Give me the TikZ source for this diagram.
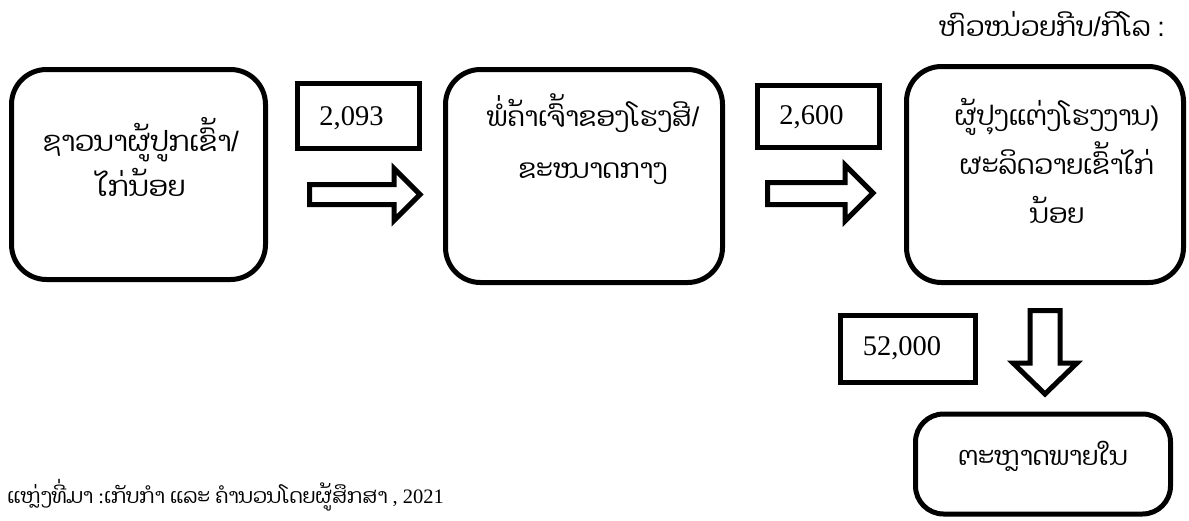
\documentclass[tikz,border=0pt]{standalone}
\usepackage{fontspec}
\setmainfont{Liberation Serif}
\newfontfamily\lao[Script=Lao]{Dhyana}
\newfontfamily\lsans{Liberation Sans}
\begin{document}
\begin{tikzpicture}[x=1pt,y=-1pt,
  bigbox/.style={draw, line width=5pt, rounded corners=35pt, inner sep=0pt},
  numbox/.style={draw, line width=5pt, inner sep=0pt},
  blockarrow/.style={draw, line width=5pt, miter limit=10},
  laotext/.style={font=\lao\fontsize{27}{49}\selectfont, align=center, inner sep=0pt},
  numtext/.style={font=\fontsize{28.5}{30}\selectfont, inner sep=0pt}
]
\useasboundingbox (0,0) rectangle (1189,520);
\fill[white] (0,0) rectangle (1189,520);

% main boxes
\node[bigbox, minimum width=254pt, minimum height=210pt] (farmer) at (138.5,174.5) {};
\node[bigbox, minimum width=277pt, minimum height=213pt] (mill) at (584,176) {};
\node[bigbox, minimum width=277pt, minimum height=216pt] (proc) at (1045,174.5) {};
\node[bigbox, rounded corners=28pt, minimum width=255pt, minimum height=100pt] (market) at (1043,464) {};

% price boxes
\node[numbox, minimum width=122pt, minimum height=65pt] (p1) at (358.5,116) {};
\node[numbox, minimum width=122pt, minimum height=62pt] (p2) at (818.5,116.5) {};
\node[numbox, minimum width=135pt, minimum height=67pt] (p3) at (908,349) {};

\node[numtext] (p1t) at (351.5,118) {2,093};
\node[numtext] (p2t) at (811.5,117) {2,600};
\node[numtext] (p3t) at (902,348) {52,000};

% texts in boxes
\node[laotext, font=\lao\fontsize{28}{45}\selectfont] (farmert) at (141,157) {ຊາວນາຜູ້ປູກເຂົ້າ{\lsans/}\\ໄກ່ນ້ອຍ};
\node[laotext, font=\lao\fontsize{27}{52}\selectfont] (millt) at (593,139) {ພໍ່ຄ້າເຈົ້າຂອງໂຮງສີ{\lsans/}\\ຂະໜາດກາງ};
\node[laotext] (proct) at (1057,161) {ຜູ້ປຸງແຕ່ງໂຮງງານ{\lsans)}\\ຜະລິດວາຍເຂົ້າໄກ່\\ນ້ອຍ};
\node[laotext, font=\lao\fontsize{26}{30}\selectfont] (markett) at (1043,456) {ຕະຫຼາດພາຍໃນ};

% unit label and source
\node[font=\lao\fontsize{27}{30}\selectfont, anchor=east, inner sep=0pt] (unit) at (1165,24) {ຫົວໜ່ວຍກີບ{\lsans/}ກິໂລ {\lsans:}};
\node[font=\lao\fontsize{20.5}{26}\selectfont, anchor=west, inner sep=0pt] (src) at (7,495) {ແຫຼ່ງທີ່ມາ {\rmfamily:}ເກັບກຳ ແລະ ຄຳນວນໂດຍຜູ້ສຶກສາ {\rmfamily, 2021}};

% block arrows
\draw[blockarrow] (309.5,184.5) -- (394,184.5) -- (394,168.5) -- (420,194.5) -- (394,220.5) -- (394,204.5) -- (309.5,204.5) -- cycle;
\draw[blockarrow] (767.5,182.5) -- (845,182.5) -- (845,165) -- (873,193) -- (845,221) -- (845,204.5) -- (767.5,204.5) -- cycle;
\draw[blockarrow] (1030,310.5) -- (1060,310.5) -- (1060,363) -- (1077,363) -- (1045,394) -- (1013,363) -- (1030,363) -- cycle;
\end{tikzpicture}
\end{document}
